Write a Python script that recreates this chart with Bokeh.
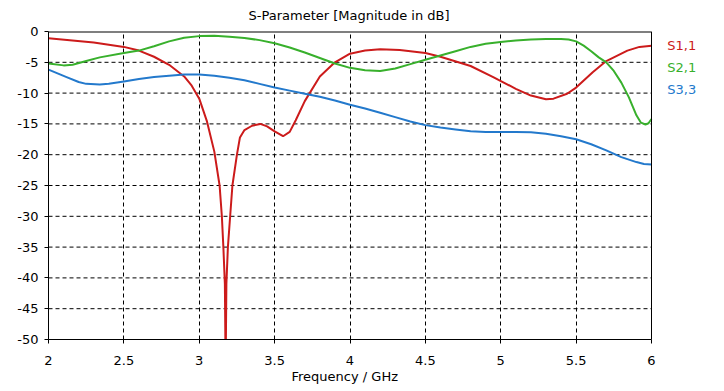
from bokeh.plotting import figure
from bokeh.models import Label, FixedTicker, Range1d, Span, Title
from bokeh.embed import file_html
from bokeh.resources import INLINE

# ---- data ----
f_s11 = [2.0, 2.3, 2.5, 2.6, 2.7, 2.8, 2.9, 2.95, 3.0, 3.05, 3.1, 3.135, 3.15, 3.16, 3.17, 3.175,
         3.18, 3.19, 3.205, 3.22, 3.25, 3.27, 3.3, 3.35, 3.405, 3.45, 3.5, 3.556, 3.6, 3.64, 3.7,
         3.8, 3.9, 4.0, 4.1, 4.2, 4.33, 4.5, 4.6, 4.8, 4.95, 5.1, 5.2, 5.3, 5.35, 5.44, 5.5,
         5.61, 5.7, 5.84, 5.92, 6.0]
s11 = [-1.1, -1.8, -2.5, -3.1, -4.1, -5.4, -7.3, -8.8, -10.9, -14.5, -19.5, -25.0, -30.0, -35.0, -41.0, -55.0,
       -41.0, -35.0, -30.0, -25.0, -20.0, -17.2, -16.0, -15.3, -15.0, -15.4, -16.2, -17.0, -16.3, -14.4, -11.3,
       -7.3, -5.0, -3.6, -3.1, -2.9, -3.0, -3.5, -4.1, -5.6, -7.4, -9.3, -10.4, -11.0, -10.9, -10.1, -9.1,
       -6.6, -4.8, -3.1, -2.5, -2.3]

f_s21 = [2.0, 2.1, 2.16, 2.25, 2.34, 2.5, 2.6, 2.7, 2.8, 2.9, 3.0, 3.1, 3.2, 3.3, 3.4, 3.5, 3.6, 3.7,
         3.8, 3.9, 4.0, 4.1, 4.2, 4.3, 4.4, 4.5, 4.6, 4.7, 4.8, 4.9, 5.0, 5.1, 5.2, 5.3, 5.4, 5.45,
         5.5, 5.55, 5.6, 5.65, 5.7, 5.75, 5.8, 5.85, 5.9, 5.93, 5.96, 5.98, 6.0]
s21 = [-5.2, -5.5, -5.4, -4.8, -4.2, -3.5, -3.1, -2.4, -1.6, -1.0, -0.75, -0.7, -0.85, -1.05, -1.4, -1.9, -2.6, -3.4,
       -4.3, -5.2, -5.9, -6.3, -6.4, -6.0, -5.3, -4.6, -3.9, -3.2, -2.5, -2.0, -1.7, -1.45, -1.3, -1.2, -1.2, -1.3,
       -1.6, -2.3, -3.2, -4.2, -5.0, -6.4, -8.3, -10.7, -13.6, -14.8, -15.1, -14.9, -14.2]

f_s33 = [2.0, 2.06, 2.12, 2.2, 2.25, 2.34, 2.4, 2.5, 2.6, 2.7, 2.8, 2.9, 3.0, 3.1, 3.2, 3.3, 3.4, 3.5,
         3.6, 3.7, 3.8, 3.9, 4.0, 4.1, 4.2, 4.3, 4.4, 4.5, 4.6, 4.7, 4.8, 4.9, 5.0, 5.1, 5.2, 5.3,
         5.4, 5.5, 5.6, 5.7, 5.8, 5.9, 5.95, 6.0]
s33 = [-6.2, -6.8, -7.4, -8.2, -8.5, -8.6, -8.5, -8.1, -7.7, -7.4, -7.2, -7.0, -7.0, -7.2, -7.5, -7.9, -8.5, -9.1,
       -9.6, -10.1, -10.6, -11.2, -11.9, -12.5, -13.2, -13.9, -14.6, -15.2, -15.6, -15.9, -16.2, -16.3, -16.3, -16.3, -16.35, -16.6,
       -17.0, -17.5, -18.3, -19.3, -20.4, -21.2, -21.5, -21.6]

series_names = ["S1,1", "S2,1", "S3,3"]
series_colors = ["#cc1b1b", "#38b02c", "#2379cc"]

x_ticks = [2.0, 2.5, 3.0, 3.5, 4.0, 4.5, 5.0, 5.5, 6.0]
x_tick_labels = ["2", "2.5", "3", "3.5", "4", "4.5", "5", "5.5", "6"]
y_ticks = [0, -5, -10, -15, -20, -25, -30, -35, -40, -45, -50]
y_tick_labels = ["0", "-5", "-10", "-15", "-20", "-25", "-30", "-35", "-40", "-45", "-50"]

title_text = "S-Parameter [Magnitude in dB]"
x_label_text = "Frequency / GHz"

FONT = "DejaVu Sans"

# plot box spans x 2..6 (603 px); the frame is widened to the right so the
# series names beside the box can be drawn inside the (clipped) frame
W_LEFT, W_TOTAL, BOX_PX = 48, 724, 603
x_min, x_max = x_ticks[0], x_ticks[-1]
x_end = x_min + (x_max - x_min) * (W_TOTAL - W_LEFT) / BOX_PX

p = figure(width=W_TOTAL, height=391, output_backend="svg", toolbar_location=None,
           x_range=Range1d(x_min, x_end), y_range=Range1d(y_ticks[-1], y_ticks[0]),
           min_border_left=W_LEFT, min_border_right=0, min_border_top=31, min_border_bottom=52)

p.title = Title(text=title_text, align="left", offset=200, text_font=FONT,
                text_font_size="13px", text_font_style="normal", text_color="#000000",
                vertical_align="top", standoff=14)

# horizontal dashed grid lines limited to the box
p.ygrid.visible = False
gy = y_ticks[1:-1]
p.segment(x0=[x_min] * len(gy), x1=[x_max] * len(gy), y0=gy, y1=gy,
          line_color="#000000", line_width=1, line_dash="4 3")
p.xgrid.grid_line_color = "#000000"
p.xgrid.grid_line_dash = "4 3"
p.xgrid.grid_line_width = 1

for xs, ys, c in zip([f_s11, f_s21, f_s33], [s11, s21, s33], series_colors):
    p.line(xs, ys, line_color=c, line_width=2)

# box: top edge and right edge (left/bottom are the axes)
p.line([x_min, x_max], [y_ticks[0], y_ticks[0]], line_color="#000000", line_width=2)
p.add_layout(Span(location=x_max, dimension="height", line_color="#000000", line_width=1))

for ax in (p.xaxis[0], p.yaxis[0]):
    ax.major_label_text_font = FONT
    ax.major_label_text_font_size = "13px"
    ax.major_label_text_color = "#000000"
    ax.axis_line_color = "#000000"
    ax.major_tick_line_color = "#000000"
    ax.major_tick_out = 4
    ax.major_tick_in = 0
    ax.minor_tick_line_color = None
    ax.major_label_standoff = 6

p.xaxis.bounds = (x_min, x_max)
p.xaxis.major_label_standoff = 12
p.xaxis.ticker = FixedTicker(ticks=x_ticks)
p.yaxis.ticker = FixedTicker(ticks=y_ticks)
p.xaxis.major_label_overrides = {t: l for t, l in zip(x_ticks, x_tick_labels)}
p.yaxis.major_label_overrides = {t: l for t, l in zip(y_ticks, y_tick_labels)}

# x axis name as a horizontal title below the axis, centred under the box
p.add_layout(Title(text=x_label_text, align="left", offset=243, text_font=FONT,
                   text_font_size="13px", text_font_style="normal", text_color="#000000",
                   vertical_align="top", standoff=2), "below")

p.outline_line_color = None
p.background_fill_color = "white"
p.border_fill_color = "white"

# series names beside the box
label_x = [6.105, 6.105, 6.105]
label_y = [-2.27, -5.84, -9.42]
for name, c, lx, ly in zip(series_names, series_colors, label_x, label_y):
    p.add_layout(Label(x=lx, y=ly, text=name, text_color=c, text_font=FONT,
                       text_font_size="13px", text_baseline="middle", text_align="left"))

open("out.html", "w").write(file_html(p, INLINE))
